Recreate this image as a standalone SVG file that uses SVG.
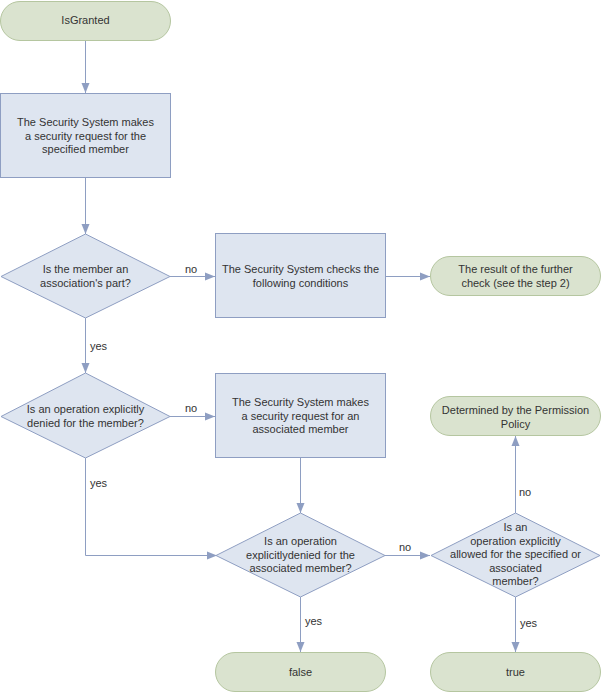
<svg xmlns="http://www.w3.org/2000/svg" width="601" height="693" viewBox="0 0 601 693">
<style>
.term{fill:#dae3cf;stroke:#b5c6a0;stroke-width:1}
.proc{fill:#dee5f0;stroke:#8e9ec2;stroke-width:1}
.t{font-family:"Liberation Sans",Arial,sans-serif;font-size:11px;fill:#333;text-anchor:middle}
.lbl{font-family:"Liberation Sans",Arial,sans-serif;font-size:11px;fill:#333}
.c{fill:none;stroke:#8e9ec2;stroke-width:1}
</style>
<defs>
<marker id="a" viewBox="0 0 10 10" refX="10" refY="5" markerWidth="10" markerHeight="10" markerUnits="userSpaceOnUse" orient="auto">
<path d="M0,1 L10,5 L0,9 Z" fill="#8e9ec2"/>
</marker>
</defs>
<rect width="601" height="693" fill="#fff"/>
<g id="connectors">
<path class="c" d="M85.5,41 V93" marker-end="url(#a)"/>
<path class="c" d="M85.5,178 V234" marker-end="url(#a)"/>
<path class="c" d="M170,276.5 H215" marker-end="url(#a)"/>
<path class="c" d="M385,276.5 H430" marker-end="url(#a)"/>
<path class="c" d="M85.5,318 V373" marker-end="url(#a)"/>
<path class="c" d="M170,416.5 H215" marker-end="url(#a)"/>
<path class="c" d="M85.5,458 V555.5 H217" marker-end="url(#a)"/>
<path class="c" d="M300.5,458 V513" marker-end="url(#a)"/>
<path class="c" d="M385,555.5 H430" marker-end="url(#a)"/>
<path class="c" d="M515.5,513 V436" marker-end="url(#a)"/>
<path class="c" d="M300.5,597 V652" marker-end="url(#a)"/>
<path class="c" d="M515.5,597 V652" marker-end="url(#a)"/>
<text class="lbl" x="185" y="273">no</text>
<text class="lbl" x="90" y="350">yes</text>
<text class="lbl" x="185" y="412">no</text>
<text class="lbl" x="90" y="487">yes</text>
<text class="lbl" x="399" y="551">no</text>
<text class="lbl" x="519" y="496">no</text>
<text class="lbl" x="305" y="625">yes</text>
<text class="lbl" x="520" y="627">yes</text>
</g>
<g id="n-isgranted">
<rect class="term" x="0.5" y="1.5" width="170" height="39" rx="19.5"/>
<text class="t" x="85.5" y="24">IsGranted</text>
</g>
<g id="n-request">
<rect class="proc" x="0.5" y="93.5" width="170" height="84"/>
<text class="t" x="85.5" y="126">The Security System makes</text>
<text class="t" x="85.5" y="139.5">a security request for the</text>
<text class="t" x="85.5" y="153">specified member</text>
</g>
<g id="n-assoc">
<path class="proc" d="M85.5,234 L170,276.5 L85.5,318 L1,276.5 Z"/>
<text class="t" x="85.5" y="273">Is the member an</text>
<text class="t" x="85.5" y="286.5">association's part?</text>
</g>
<g id="n-checks">
<rect class="proc" x="215.5" y="233.5" width="170" height="84"/>
<text class="t" x="300.5" y="273">The Security System checks the</text>
<text class="t" x="300.5" y="286.5">following conditions</text>
</g>
<g id="n-result">
<rect class="term" x="430.5" y="256.5" width="170" height="39" rx="19.5"/>
<text class="t" x="515.5" y="273">The result of the further</text>
<text class="t" x="515.5" y="286.5">check (see the step 2)</text>
</g>
<g id="n-denied">
<path class="proc" d="M85.5,373 L170,416.5 L85.5,458 L1,416.5 Z"/>
<text class="t" x="85.5" y="413">Is an operation explicitly</text>
<text class="t" x="85.5" y="426.5">denied for the member?</text>
</g>
<g id="n-request2">
<rect class="proc" x="215.5" y="373.5" width="170" height="84"/>
<text class="t" x="300.5" y="406">The Security System makes</text>
<text class="t" x="300.5" y="419.5">a security request for an</text>
<text class="t" x="300.5" y="433">associated member</text>
</g>
<g id="n-denied2">
<path class="proc" d="M300.5,513 L385,555.5 L300.5,597 L216,555.5 Z"/>
<text class="t" x="300.5" y="545">Is an operation</text>
<text class="t" x="300.5" y="558.5">explicitlydenied for the</text>
<text class="t" x="300.5" y="572">associated member?</text>
</g>
<g id="n-allowed">
<path class="proc" d="M515.5,513 L600,555.5 L515.5,597 L431,555.5 Z"/>
<text class="t" x="515.5" y="531">Is an</text>
<text class="t" x="515.5" y="544.5">operation explicitly</text>
<text class="t" x="515.5" y="558">allowed for the specified or</text>
<text class="t" x="515.5" y="571.5">associated</text>
<text class="t" x="515.5" y="585">member?</text>
</g>
<g id="n-policy">
<rect class="term" x="430.5" y="396.5" width="170" height="39" rx="19.5"/>
<text class="t" x="515.5" y="414">Determined by the Permission</text>
<text class="t" x="515.5" y="427.5">Policy</text>
</g>
<g id="n-false">
<rect class="term" x="215.5" y="652.5" width="170" height="39" rx="19.5"/>
<text class="t" x="300.5" y="676">false</text>
</g>
<g id="n-true">
<rect class="term" x="430.5" y="652.5" width="170" height="39" rx="19.5"/>
<text class="t" x="515.5" y="676">true</text>
</g>
</svg>
